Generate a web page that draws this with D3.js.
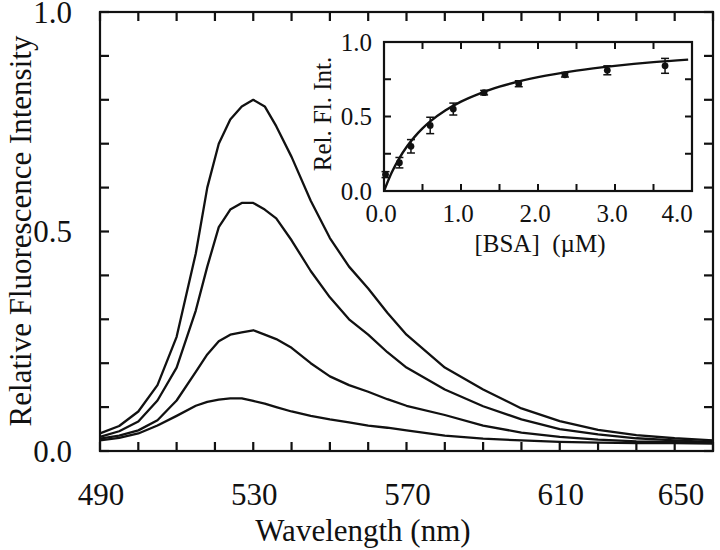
<!DOCTYPE html>
<html><head><meta charset="utf-8">
<script src="https://cdn.jsdelivr.net/npm/d3@7"></script>
<style>body{margin:0;background:#fff}svg{display:block}</style>
</head><body><svg id="c" width="720" height="550"></svg>
<script>
// ---- data ----
const wavelengths = [490,495,500,505,510,515,518,521,524,527,530,533,536,540,545,550,555,560,565,570,580,590,600,610,620,630,640,650];
const spectrum1 = [0.040,0.057,0.090,0.150,0.260,0.450,0.600,0.700,0.755,0.785,0.800,0.785,0.740,0.670,0.570,0.485,0.420,0.370,0.315,0.265,0.190,0.140,0.097,0.068,0.048,0.036,0.029,0.024];
const spectrum2 = [0.032,0.045,0.067,0.115,0.190,0.320,0.420,0.510,0.550,0.565,0.565,0.550,0.530,0.480,0.410,0.350,0.300,0.265,0.225,0.190,0.140,0.102,0.072,0.050,0.038,0.029,0.024,0.020];
const spectrum3 = [0.028,0.035,0.047,0.070,0.115,0.180,0.220,0.250,0.265,0.270,0.275,0.265,0.255,0.235,0.200,0.170,0.150,0.135,0.118,0.103,0.082,0.058,0.042,0.032,0.026,0.022,0.020,0.019];
const spectrum4 = [0.024,0.030,0.040,0.058,0.080,0.103,0.112,0.117,0.120,0.120,0.114,0.108,0.100,0.090,0.080,0.072,0.065,0.058,0.053,0.047,0.035,0.028,0.024,0.021,0.019,0.018,0.018,0.017];
const spectra = [spectrum1, spectrum2, spectrum3, spectrum4];
const mainXTickLabels = [490,530,570,610,650];
const mainYTickLabels = [0.0,0.5,1.0];

const bsaConc   = [0.02,0.20,0.35,0.60,0.90,1.30,1.75,2.35,2.90,3.65];
const bsaSignal = [0.11,0.19,0.30,0.44,0.55,0.66,0.72,0.78,0.81,0.84];
const bsaError  = [0.02,0.035,0.045,0.055,0.04,0.015,0.02,0.015,0.03,0.05];
const fitConc   = [0,0.1,0.2,0.3,0.4,0.5,0.6,0.8,1.0,1.25,1.5,2.0,2.5,3.0,3.5,3.95];
const fitSignal = [0,0.124,0.221,0.300,0.365,0.420,0.467,0.542,0.600,0.656,0.700,0.764,0.808,0.840,0.865,0.882];
const insetXTickLabels = [0,1,2,3,4];
const insetYTickLabels = [0.0,0.5,1.0];

const FONT = "Liberation Serif";
const INK = "#111";

// ---- main chart ----
const svg = d3.select("#c").style("font-family", "'Liberation Serif', serif");
const M = {l:100, r:713, t:12, b:451};
const x = d3.scaleLinear().domain([490,650]).range([M.l, M.r]);
const y = d3.scaleLinear().domain([0,1]).range([M.b, M.t]);

const line = d3.line().x((d,i)=>x(wavelengths[i])).y(d=>y(d));
svg.append("g").selectAll("path").data(spectra).join("path")
  .attr("d", d=>line(d)).attr("fill","none").attr("stroke",INK).attr("stroke-width",2.3).attr("stroke-linejoin","round");

function ticks(vals, sx, sy, len, pos, width){
  const grp = svg.append("g");
  grp.selectAll("line").data(vals).join("line")
    .attr("stroke",INK).attr("stroke-width",width)
    .attr("x1", d => pos.horiz ? sx(d) : pos.at)
    .attr("x2", d => pos.horiz ? sx(d) : pos.at + pos.dir*len)
    .attr("y1", d => pos.horiz ? pos.at : sy(d))
    .attr("y2", d => pos.horiz ? pos.at + pos.dir*len : sy(d));
}
const xt = d3.range(490,651,10), yt = d3.range(0,1.001,0.1);
ticks(xt, x, y, 9, {horiz:true, at:M.b, dir:-1}, 2.2);
ticks(xt, x, y, 9, {horiz:true, at:M.t, dir:1}, 2.2);
ticks(yt, x, y, 9, {horiz:false, at:M.l, dir:1}, 2.2);
ticks(yt, x, y, 9, {horiz:false, at:M.r, dir:-1}, 2.2);
svg.append("rect").attr("x",M.l).attr("y",M.t).attr("width",M.r-M.l).attr("height",M.b-M.t).attr("fill","none").attr("stroke",INK).attr("stroke-width",2.2);

svg.append("g").selectAll("text").data(mainXTickLabels).join("text")
  .attr("x", d => x(d) + (d===650 ? -32 : 1)).attr("y", 505)
  .attr("text-anchor","middle").style("font-family",FONT).attr("font-size",31).attr("fill",INK)
  .text(d3.format("d"));
svg.append("g").selectAll("text").data(mainYTickLabels).join("text")
  .attr("x", 72).attr("y", d => y(d)).attr("dy","0.35em")
  .attr("text-anchor","end").style("font-family",FONT).attr("font-size",31).attr("fill",INK)
  .text(d3.format(".1f"));

svg.append("text").attr("x",363).attr("y",541).attr("text-anchor","middle").style("font-family",FONT).attr("font-size",31).attr("fill",INK).text("Wavelength (nm)");
svg.append("text").attr("transform","translate(31,231) rotate(-90)").attr("text-anchor","middle").style("font-family",FONT).attr("font-size",31).attr("fill",INK).text("Relative Fluorescence Intensity");

// ---- inset ----
const I = {l:384, r:692, t:42, b:191};
const ix = d3.scaleLinear().domain([0,4]).range([I.l, I.r]);
const iy = d3.scaleLinear().domain([0,1]).range([I.b, I.t]);
svg.append("rect").attr("x",I.l).attr("y",I.t).attr("width",I.r-I.l).attr("height",I.b-I.t).attr("fill","#fff");
const ixt = d3.range(0,4.001,0.5), iyt = d3.range(0,1.001,0.25);
ticks(ixt, ix, iy, 7, {horiz:true, at:I.b, dir:-1}, 2);
ticks(ixt, ix, iy, 7, {horiz:true, at:I.t, dir:1}, 2);
ticks(iyt, ix, iy, 7, {horiz:false, at:I.l, dir:1}, 2);
ticks(iyt, ix, iy, 7, {horiz:false, at:I.r, dir:-1}, 2);

const fitLine = d3.line().x((d,i)=>ix(fitConc[i])).y(d=>iy(d)).curve(d3.curveMonotoneX);
svg.append("path").attr("d",fitLine(fitSignal)).attr("fill","none").attr("stroke",INK).attr("stroke-width",2.4);

const eb = svg.append("g");
bsaConc.forEach((c,i)=>{
  const cx = ix(c), y1 = iy(bsaSignal[i]-bsaError[i]), y2 = iy(bsaSignal[i]+bsaError[i]);
  eb.append("line").attr("x1",cx).attr("x2",cx).attr("y1",y1).attr("y2",y2).attr("stroke",INK).attr("stroke-width",1.5);
  eb.append("line").attr("x1",cx-4).attr("x2",cx+4).attr("y1",y1).attr("y2",y1).attr("stroke",INK).attr("stroke-width",1.5);
  eb.append("line").attr("x1",cx-4).attr("x2",cx+4).attr("y1",y2).attr("y2",y2).attr("stroke",INK).attr("stroke-width",1.5);
});
svg.append("g").selectAll("circle").data(bsaConc).join("circle")
  .attr("cx",d=>ix(d)).attr("cy",(d,i)=>iy(bsaSignal[i])).attr("r",3.4).attr("fill",INK);

svg.append("rect").attr("x",I.l).attr("y",I.t).attr("width",I.r-I.l).attr("height",I.b-I.t).attr("fill","none").attr("stroke",INK).attr("stroke-width",2.2);

svg.append("g").selectAll("text").data(insetXTickLabels).join("text")
  .attr("x", d => ix(d) + (d===4 ? -15 : -3)).attr("y", 222)
  .attr("text-anchor","middle").style("font-family",FONT).attr("font-size",25).attr("fill",INK)
  .text(d3.format(".1f"));
svg.append("g").selectAll("text").data(insetYTickLabels).join("text")
  .attr("x", 372).attr("y", d => iy(d)).attr("dy","0.35em")
  .attr("text-anchor","end").style("font-family",FONT).attr("font-size",25).attr("fill",INK)
  .text(d3.format(".1f"));

svg.append("text").attr("x",540).attr("y",252).attr("text-anchor","middle").style("font-family",FONT).attr("font-size",25).attr("fill",INK).style("white-space","pre").text("[BSA]  (\u00B5M)");
svg.append("text").attr("transform","translate(331,114) rotate(-90)").attr("text-anchor","middle").style("font-family",FONT).attr("font-size",25).attr("fill",INK).text("Rel. Fl. Int.");
</script></body></html>
